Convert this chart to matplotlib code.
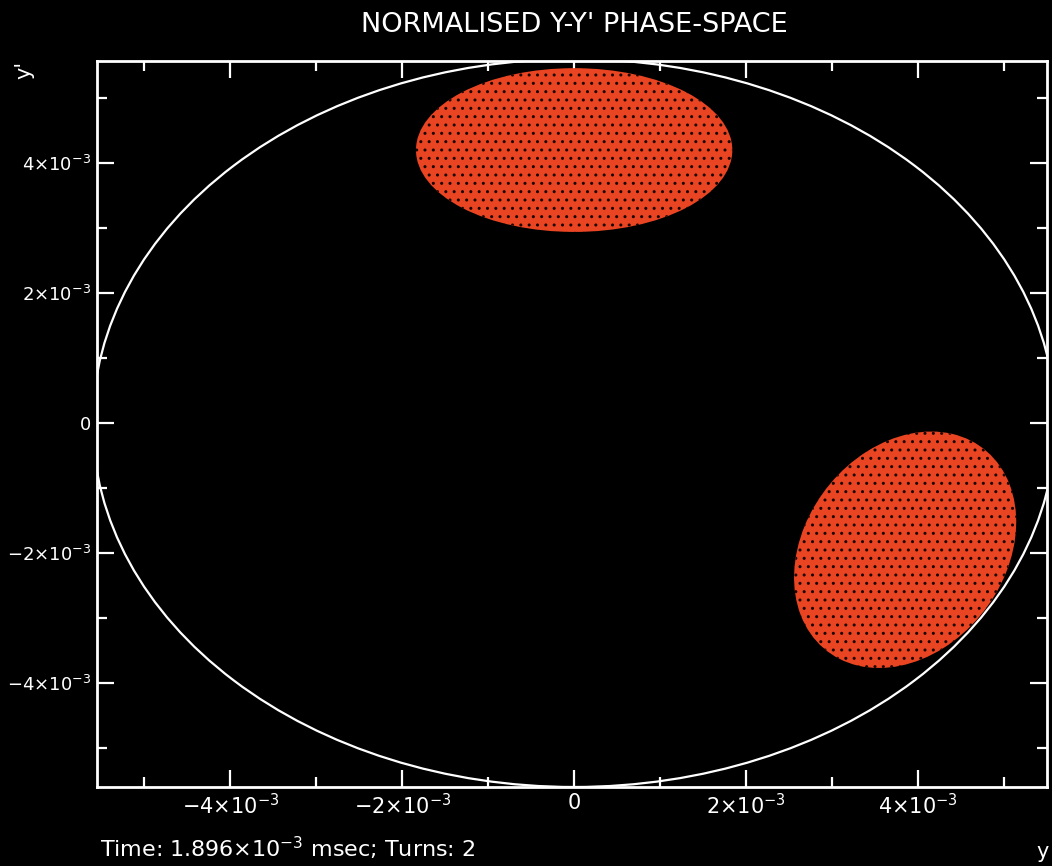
import matplotlib
matplotlib.use("Agg")
import matplotlib.pyplot as plt
from matplotlib.patches import Ellipse, Circle
from matplotlib.ticker import FixedLocator, MultipleLocator

# ---- data (units of 1e-3) ----
blob_center_x = [0.0, 3.85]
blob_center_y = [4.20, -1.95]
blob_width = [3.68, 3.73]
blob_height = [2.52, 2.45]
blob_angle = [0.0, 73.0]
acceptance_radius = 5.6

x_ticks = [-4, -2, 0, 2, 4]
x_tick_labels = [r'$-4{\times}10^{-3}$', r'$-2{\times}10^{-3}$', r'$0$',
                 r'$2{\times}10^{-3}$', r'$4{\times}10^{-3}$']
y_ticks = [-4, -2, 0, 2, 4]
y_tick_labels = [r'$-4{\times}10^{-3}$', r'$-2{\times}10^{-3}$', r'$0$',
                 r'$2{\times}10^{-3}$', r'$4{\times}10^{-3}$']

title = "NORMALISED Y-Y' PHASE-SPACE"
footer = r"Time: 1.896$\times$10$^{-3}$ msec; Turns: 2"

SCALE = 1e-3
W, H = 1052, 866
plt.rcParams['hatch.linewidth'] = 1.0
fig = plt.figure(figsize=(W / 100, H / 100), dpi=100, facecolor='black')
ax = fig.add_axes([97 / W, 1 - 787 / H, 950 / W, 726 / H])
ax.set_facecolor('black')

red = '#EA4523'
for cx, cy, w, h, a in zip(blob_center_x, blob_center_y, blob_width, blob_height, blob_angle):
    e = Ellipse((cx * SCALE, cy * SCALE), w * SCALE, h * SCALE, angle=a,
                facecolor=red, edgecolor='#1a0500', linewidth=0, hatch='..',
                zorder=2)
    ax.add_patch(e)

circ = Circle((0, 0), acceptance_radius * SCALE, facecolor='none',
              edgecolor='white', linewidth=1.6, zorder=3)
ax.add_patch(circ)

ax.set_xlim(-5.55 * SCALE, 5.5 * SCALE)
ax.set_ylim(-5.6 * SCALE, 5.57 * SCALE)

ax.xaxis.set_major_locator(FixedLocator([t * SCALE for t in x_ticks]))
ax.yaxis.set_major_locator(FixedLocator([t * SCALE for t in y_ticks]))
ax.xaxis.set_minor_locator(MultipleLocator(1 * SCALE))
ax.yaxis.set_minor_locator(MultipleLocator(1 * SCALE))
ax.set_xticklabels(x_tick_labels)
ax.set_yticklabels(y_tick_labels)

ax.tick_params(which='both', direction='in', top=True, right=True,
               color='white', labelcolor='white', width=1.6)
ax.tick_params(which='major', length=12)
ax.tick_params(axis='x', which='major', pad=4, labelsize=15)
ax.tick_params(axis='y', which='major', pad=4, labelsize=13)
ax.tick_params(which='minor', length=7)
for s in ax.spines.values():
    s.set_color('white')
    s.set_linewidth(2)

fig.text(574 / W, 1 - 25 / H, title, color='white', fontsize=19.5,
         ha='center', va='center')
fig.text(100 / W, 1 - 848 / H, footer, color='white', fontsize=16,
         ha='left', va='center')
fig.text(1043 / W, 1 - 852 / H, 'y', color='white', fontsize=15,
         ha='center', va='center')
fig.text(24 / W, 1 - 70 / H, "y'", color='white', fontsize=15,
         ha='center', va='center', rotation=90)

fig.savefig('out.png', dpi=100, facecolor='black')
